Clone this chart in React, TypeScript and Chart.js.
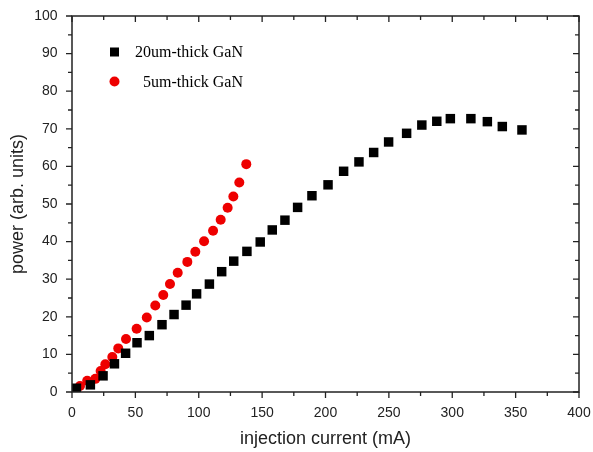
import React, { useEffect, useRef } from "react";
import { Chart, registerables } from "chart.js";

Chart.register(...registerables);

const seriesThickLabel = "20um-thick GaN";
const seriesThinLabel = "5um-thick GaN";

const thickX = [3.5, 14.5, 24.5, 33.5, 42.3, 51.3, 61, 71, 80.5, 90, 98.3, 108.4, 118.1, 127.6, 138, 148.5, 158, 168, 178, 189.3, 202, 214.3, 226.4, 238, 249.8, 264, 276, 287.8, 298.5, 314.7, 327.7, 339.5, 355];
const thickY = [1.0, 1.9, 4.3, 7.5, 10.3, 13.1, 15.0, 17.9, 20.6, 23.1, 26.1, 28.7, 32.0, 34.8, 37.4, 39.9, 43.1, 45.7, 49.1, 52.2, 55.1, 58.7, 61.2, 63.7, 66.5, 68.8, 71.0, 72.0, 72.7, 72.7, 71.9, 70.6, 69.7];

const thinX = [6.3, 12, 18.4, 22.6, 26.3, 31.8, 36.5, 42.6, 51, 59, 65.7, 72, 77.3, 83.4, 91, 97.3, 104.2, 111.3, 117.3, 122.8, 127.3, 132, 137.5];
const thinY = [1.6, 3.0, 3.5, 5.6, 7.4, 9.3, 11.6, 14.1, 16.8, 19.8, 23.0, 25.8, 28.7, 31.7, 34.6, 37.3, 40.1, 42.9, 45.8, 49.0, 52.0, 55.7, 60.6];

const xTitle = "injection current (mA)";
const yTitle = "power (arb. units)";

const xMin = 0, xMax = 400, xStep = 50, xMinor = 25;
const yMin = 0, yMax = 100, yStep = 10, yMinor = 5;

const RED = "#ee0000";
const BLACK = "#000000";
const AXIS = "#222222";

const framePlugin = {
  id: "frameTicks",
  afterDatasetsDraw(chart: any) {
    const { ctx, chartArea, scales } = chart;
    const { left, right, top, bottom } = chartArea;
    ctx.save();
    ctx.strokeStyle = AXIS;
    ctx.lineWidth = 1.5;
    ctx.strokeRect(left, top, right - left, bottom - top);
    ctx.lineWidth = 1.3;
    const xs = scales.x;
    const ys = scales.y;
    ctx.beginPath();
    for (let v = xMin; v <= xMax + 1e-9; v += xMinor) {
      const px = xs.getPixelForValue(v);
      const major = Math.abs(v / xStep - Math.round(v / xStep)) < 1e-6;
      const len = major ? 6 : 4;
      ctx.moveTo(px, bottom);
      ctx.lineTo(px, bottom + len);
      ctx.moveTo(px, top);
      ctx.lineTo(px, top + len);
    }
    for (let v = yMin; v <= yMax + 1e-9; v += yMinor) {
      const py = ys.getPixelForValue(v);
      const major = Math.abs(v / yStep - Math.round(v / yStep)) < 1e-6;
      const len = major ? 6 : 4;
      ctx.moveTo(left, py);
      ctx.lineTo(left - len, py);
      ctx.moveTo(right, py);
      ctx.lineTo(right - len, py);
    }
    ctx.stroke();

    // legend
    ctx.font = "16px 'Liberation Serif', 'Times New Roman', serif";
    ctx.textBaseline = "middle";
    ctx.textAlign = "left";
    ctx.fillStyle = BLACK;
    ctx.fillRect(114.5 - 4.5, 52 - 4.5, 9, 9);
    ctx.fillText(seriesThickLabel, 135, 52.5);
    ctx.beginPath();
    ctx.fillStyle = RED;
    ctx.arc(114.5, 81.5, 5, 0, Math.PI * 2);
    ctx.fill();
    ctx.fillStyle = BLACK;
    ctx.fillText(seriesThinLabel, 143, 82.5);
    ctx.restore();
  },
};

export default function App() {
  const ref = useRef<HTMLCanvasElement | null>(null);
  useEffect(() => {
    document.body.style.margin = "0";
    const canvas = ref.current;
    if (!canvas) return;
    const chart = new Chart(canvas, {
      type: "scatter",
      data: {
        datasets: [
          {
            label: seriesThickLabel,
            data: thickX.map((x, i) => ({ x, y: thickY[i] })),
            pointStyle: "rect",
            pointRadius: 6.7,
            backgroundColor: BLACK,
            borderColor: BLACK,
            borderWidth: 0,
          },
          {
            label: seriesThinLabel,
            data: thinX.map((x, i) => ({ x, y: thinY[i] })),
            pointStyle: "circle",
            pointRadius: 5,
            backgroundColor: RED,
            borderColor: RED,
            borderWidth: 0,
          },
        ],
      },
      options: {
        animation: false,
        responsive: false,
        devicePixelRatio: 1,
        layout: { padding: { top: 16, right: 14, left: 0, bottom: 0 } },
        plugins: {
          legend: { display: false },
          tooltip: { enabled: false },
        },
        scales: {
          x: {
            type: "linear",
            min: xMin,
            max: xMax,
            grid: { display: false, drawTicks: false, tickLength: 0 },
            border: { display: false },
            ticks: {
              stepSize: xStep,
              padding: 13,
              color: AXIS,
              font: { family: "'Liberation Sans', Arial, sans-serif", size: 14 },
            },
            title: {
              display: true,
              text: xTitle,
              color: AXIS,
              font: { family: "'Liberation Sans', Arial, sans-serif", size: 18 },
              padding: { top: 0, bottom: 2 },
            },
            afterFit: (s: any) => {
              s.height = 60;
              s.paddingLeft = 0;
              s.paddingRight = 0;
            },
          },
          y: {
            type: "linear",
            min: yMin,
            max: yMax,
            grid: { display: false, drawTicks: false, tickLength: 0 },
            border: { display: false },
            ticks: {
              stepSize: yStep,
              padding: 14.5,
              color: AXIS,
              font: { family: "'Liberation Sans', Arial, sans-serif", size: 14 },
            },
            title: {
              display: true,
              text: yTitle,
              color: AXIS,
              font: { family: "'Liberation Sans', Arial, sans-serif", size: 18 },
              padding: { top: 7, bottom: 0 },
            },
            afterFit: (s: any) => {
              s.width = 72;
              s.paddingTop = 0;
              s.paddingBottom = 0;
            },
          },
        },
      },
      plugins: [framePlugin],
    });
    return () => chart.destroy();
  }, []);
  return (
    <div style={{ width: 593, height: 452 }}>
      <canvas ref={ref} width={593} height={452} style={{ display: "block" }} />
    </div>
  );
}
